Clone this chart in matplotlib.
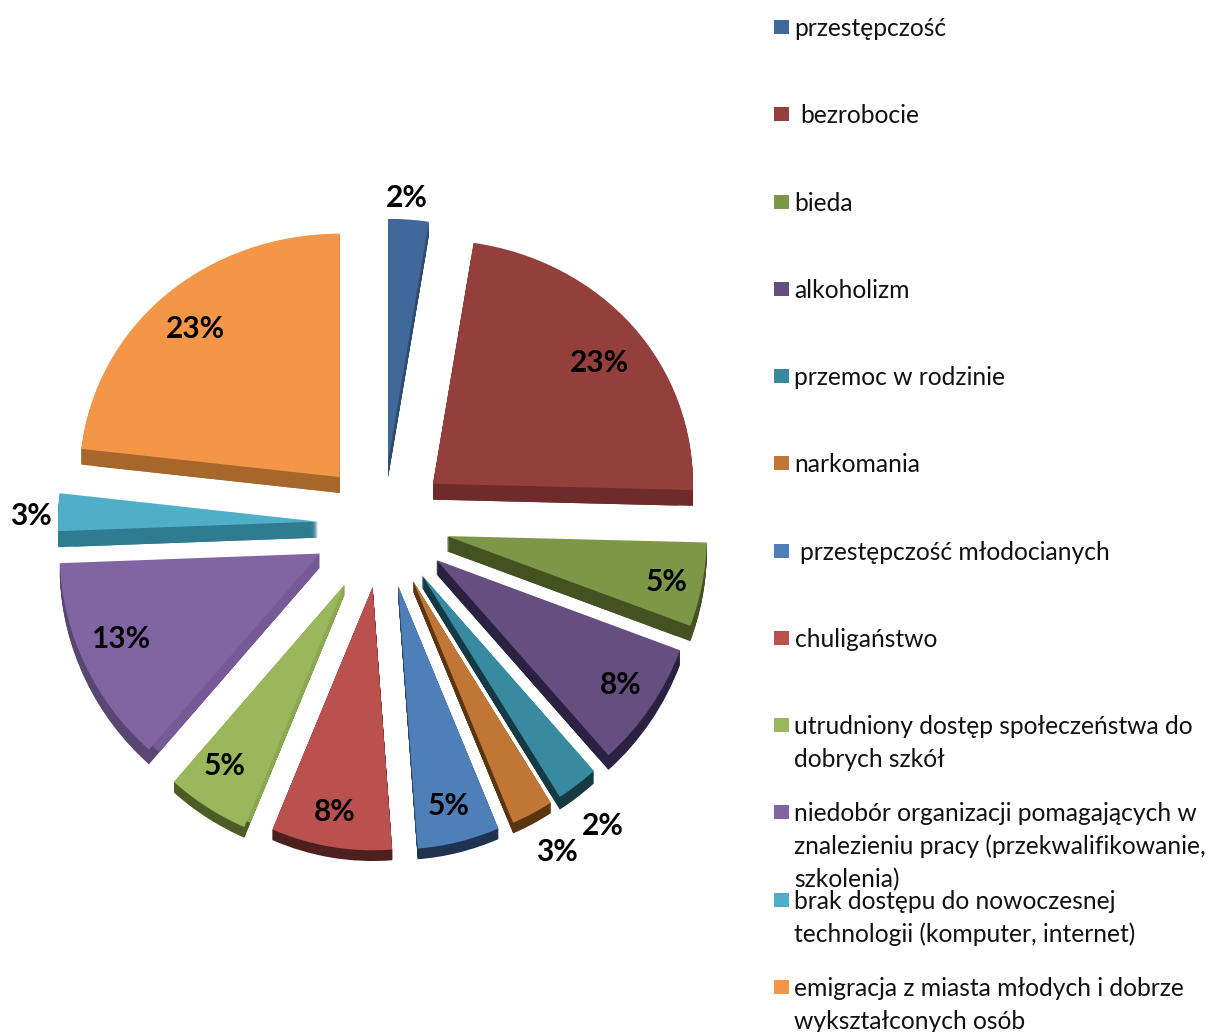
import matplotlib
matplotlib.use("Agg")
import matplotlib.pyplot as plt
import numpy as np
from matplotlib.patches import Rectangle

categories = ["przestępczość", " bezrobocie", "bieda", "alkoholizm", "przemoc w rodzinie", "narkomania",
              " przestępczość młodocianych", "chuligaństwo",
              "utrudniony dostęp społeczeństwa do\ndobrych szkół",
              "niedobór organizacji pomagających w\nznalezieniu pracy (przekwalifikowanie,\nszkolenia)",
              "brak dostępu do nowoczesnej\ntechnologii (komputer, internet)",
              "emigracja z miasta młodych i dobrze\nwykształconych osób"]
values = [2.5, 22.9, 5.3, 7.8, 2.6, 2.6, 5.1, 7.5, 5.1, 13.0, 2.4, 23.2]
percent_labels = ["2%", "23%", "5%", "8%", "2%", "3%", "5%", "8%", "5%", "13%", "3%", "23%"]

face_colors = ["#41689A", "#953F3D", "#7D9749", "#664E80", "#378AA0", "#C27636",
               "#4F7FB8", "#BA514F", "#9AB85B", "#8165A3", "#4FAEC8", "#F39648"]
wall_colors = ["#2F4C70", "#6E2B2A", "#445222", "#2B2140", "#153A44", "#5A3510",
               "#1F3350", "#4D1F1F", "#4B5C26", "#5A4672", "#2F7C90", "#A6662C"]
inner_colors = ["#2F4C70", "#6E2B2A", "#445222", "#2B2140", "#153A44", "#5A3510",
                "#2A4A73", "#4D1F1F", "#8BA94F", "#755A97", "#2F7C90", "#A6662C"]
wall_px = [16, 16, 15, 14, 12, 10, 10, 10, 10, 14, 16, 16]

label_xy = [(407, 198), (599, 363), (667, 582), (621, 685), (603, 826), (557, 852),
            (449, 806), (335, 812), (225, 766), (121, 639), (31, 516), (195, 329)]
legend_y = [28, 115, 203, 290, 377, 464, 552, 639, 726, 813, 901, 988]

W, H = 1211, 1032
CX, CY = 383, 524
RX, RY = 260, 253
BEND = 7.0
EXPLODE = [0.25, 0.25, 0.25, 0.25, 0.25, 0.25, 0.25, 0.25, 0.28, 0.27, 0.25, 0.25]
STEPS = 16


def to_px(y):
    y = np.asarray(y, dtype=float)
    return RY * y - BEND * y * y


def from_px(g):
    g = np.asarray(g, dtype=float)
    return (RY - np.sqrt(np.maximum(RY * RY - 4 * BEND * g, 0))) / (2 * BEND)


fig = plt.figure(figsize=(W / 100, H / 100), dpi=100, facecolor="white")
ax = fig.add_axes([0, 0, 1, 1])


def stacked(colors, radius):
    for k in range(STEPS, 0, -1):
        wedges, _ = ax.pie(values, explode=EXPLODE, colors=colors, startangle=90,
                           counterclock=False, radius=radius, frame=False,
                           wedgeprops=dict(linewidth=0))
        for w, d in zip(wedges, wall_px):
            cx, cy = w.center
            w.set_center((cx, cy - d / RY * k / STEPS))


stacked(wall_colors, 1.0)
stacked(inner_colors, 0.94)
ax.pie(values, explode=EXPLODE, colors=face_colors, startangle=90, counterclock=False,
       frame=False, wedgeprops=dict(linewidth=0))
ax.set_aspect("auto")
ax.set_yscale("function", functions=(to_px, from_px))
ax.set_xlim((0 - CX) / RX, (W - CX) / RX)
ax.set_ylim(float(from_px(CY - H)), float(from_px(CY)))
ax.axis("off")

px = fig.add_axes([0, 0, 1, 1], facecolor="none")
px.set_xlim(0, W)
px.set_ylim(H, 0)
px.axis("off")

for (x, y), s in zip(label_xy, percent_labels):
    px.text(x, y, s, ha="center", va="center", fontsize=21.5, fontweight="bold",
            family="Lato", color="black")

for y, name, c in zip(legend_y, categories, face_colors):
    px.add_patch(Rectangle((774, y - 8.5), 14.5, 14.5, facecolor=c, edgecolor="none"))
    for i, line in enumerate(name.split("\n")):
        indent = 6 if line.startswith(" ") else 0
        px.text(794.5 + indent, y + 8 + i * 33, line.strip(), ha="left", va="baseline",
                fontsize=17.72, family="Lato", color="#111111")

fig.savefig("out.png", dpi=100, facecolor="white")
